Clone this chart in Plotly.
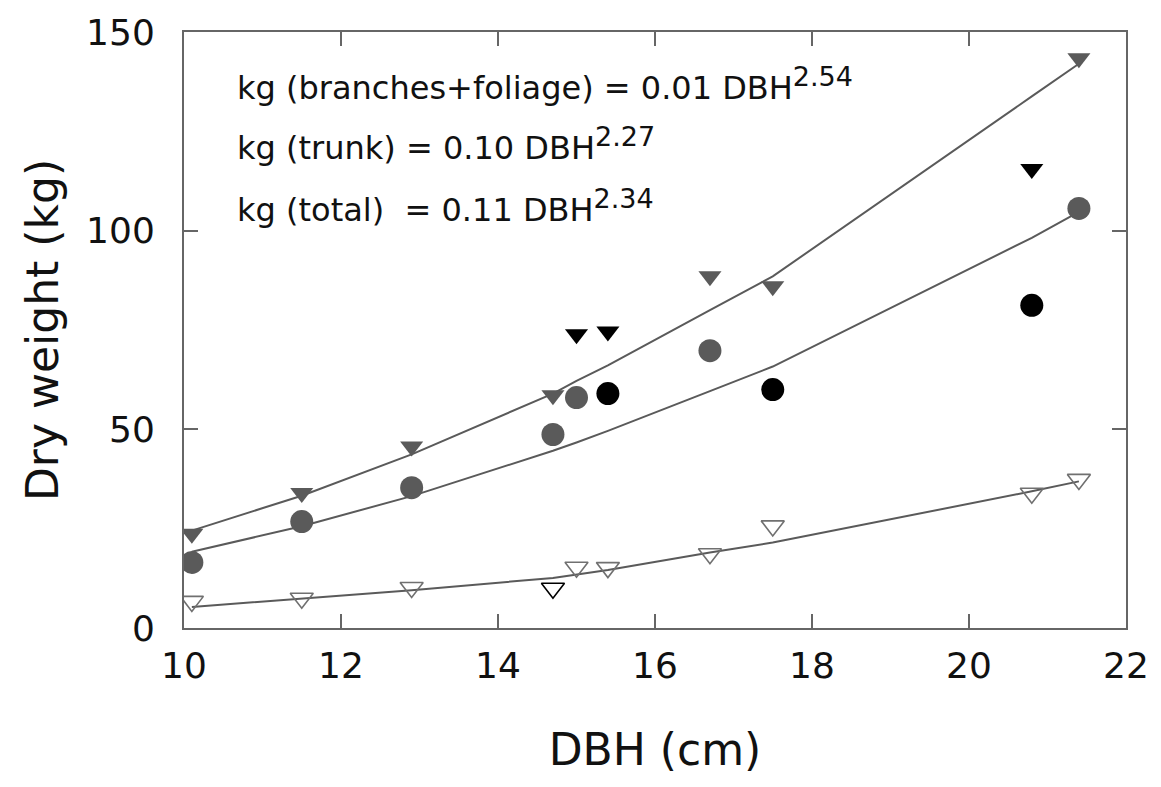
import plotly.graph_objects as go

# ---- data ----
dbh = [10.1, 11.5, 12.9, 14.7, 15.0, 15.4, 16.7, 17.5, 20.8, 21.4]

total_obs = [23.7, 34.0, 45.7, 58.6, 73.9, 74.6, 88.5, 86.0, 115.5, 143.4]
total_dark = [False, False, False, False, True, True, False, False, True, False]

trunk_obs = [16.5, 26.8, 35.3, 48.7, 58.0, 59.0, 69.8, 60.0, 81.2, 105.6]
trunk_dark = [False, False, False, False, False, True, False, True, True, False]

branch_obs = [6.7, 7.5, 10.2, 10.0, 15.3, 15.2, 18.7, 25.7, 33.9, 37.4]
branch_dark = [False, False, False, True, False, False, False, False, False, False]

# fitted curves read at the same DBH values
total_fit = [24.5, 33.3, 43.7, 59.0, 62.2, 66.1, 80.0, 88.5, 133.8, 142.0]
trunk_fit = [19.2, 25.6, 33.2, 44.6, 46.7, 49.6, 59.6, 65.8, 98.2, 104.7]
branch_fit = [5.3, 7.4, 9.5, 12.6, 13.5, 14.6, 19.0, 21.5, 34.4, 36.9]

x_ticks = [10, 12, 14, 16, 18, 20, 22]
y_ticks = [0, 50, 100, 150]

GRAY = "#5a5a5a"
BLACK = "#000000"
FONT = "DejaVu Sans"

fig = go.Figure()

for fit in (total_fit, trunk_fit, branch_fit):
    fig.add_trace(go.Scatter(x=dbh, y=fit, mode="lines",
                             line=dict(color=GRAY, width=2), hoverinfo="skip"))

fig.add_trace(go.Scatter(
    x=dbh, y=branch_obs, mode="markers",
    marker=dict(symbol="triangle-down-open", size=20,
                color=[BLACK if d else "#707070" for d in branch_dark],
                line=dict(width=1.6))))

fig.add_trace(go.Scatter(
    x=dbh, y=trunk_obs, mode="markers",
    marker=dict(symbol="circle", size=23,
                color=[BLACK if d else GRAY for d in trunk_dark],
                line=dict(width=0))))

fig.add_trace(go.Scatter(
    x=dbh, y=total_obs, mode="markers",
    marker=dict(symbol="triangle-down", size=20,
                color=[BLACK if d else GRAY for d in total_dark],
                line=dict(width=0))))

ann_font = dict(family=FONT, size=32, color="#111111")
SUP = '<sup><span style="font-size:27px">{}</span></sup>'
eqs = [
    ("kg (branches+foliage) = 0.01 DBH" + SUP.format("2.54"), 136.8),
    ("kg (trunk) = 0.10 DBH" + SUP.format("2.27"), 121.8),
    ("kg (total)\u00a0\u00a0= 0.11 DBH" + SUP.format("2.34"), 106.3),
]
for txt, yy in eqs:
    fig.add_annotation(x=0.054, xref="paper", y=yy, yref="y", text=txt,
                       showarrow=False, xanchor="left", yanchor="middle",
                       font=ann_font)

axis_common = dict(
    showline=True, linecolor="#666666", linewidth=2, mirror="ticks",
    ticks="inside", ticklen=14, tickwidth=1.5, tickcolor="#666666",
    showgrid=False, zeroline=False,
    tickfont=dict(family=FONT, size=36, color="#111111"),
)

fig.update_xaxes(range=[10, 22], tickvals=x_ticks, ticktext=[str(v) for v in x_ticks],
                 title=dict(text="DBH (cm)", font=dict(family=FONT, size=44, color="#111111"),
                            standoff=49),
                 ticklabelstandoff=5, **axis_common)
fig.update_yaxes(range=[0, 150], tickvals=y_ticks, ticktext=[str(v) for v in y_ticks],
                 title=dict(text="Dry weight (kg)", font=dict(family=FONT, size=44, color="#111111"),
                            standoff=14),
                 ticklabelstandoff=20, **axis_common)

fig.update_layout(
    width=1161, height=787,
    margin=dict(l=184, r=31, t=27, b=159),
    plot_bgcolor="white", paper_bgcolor="white",
    showlegend=False,
)

fig.write_html("out.html")
